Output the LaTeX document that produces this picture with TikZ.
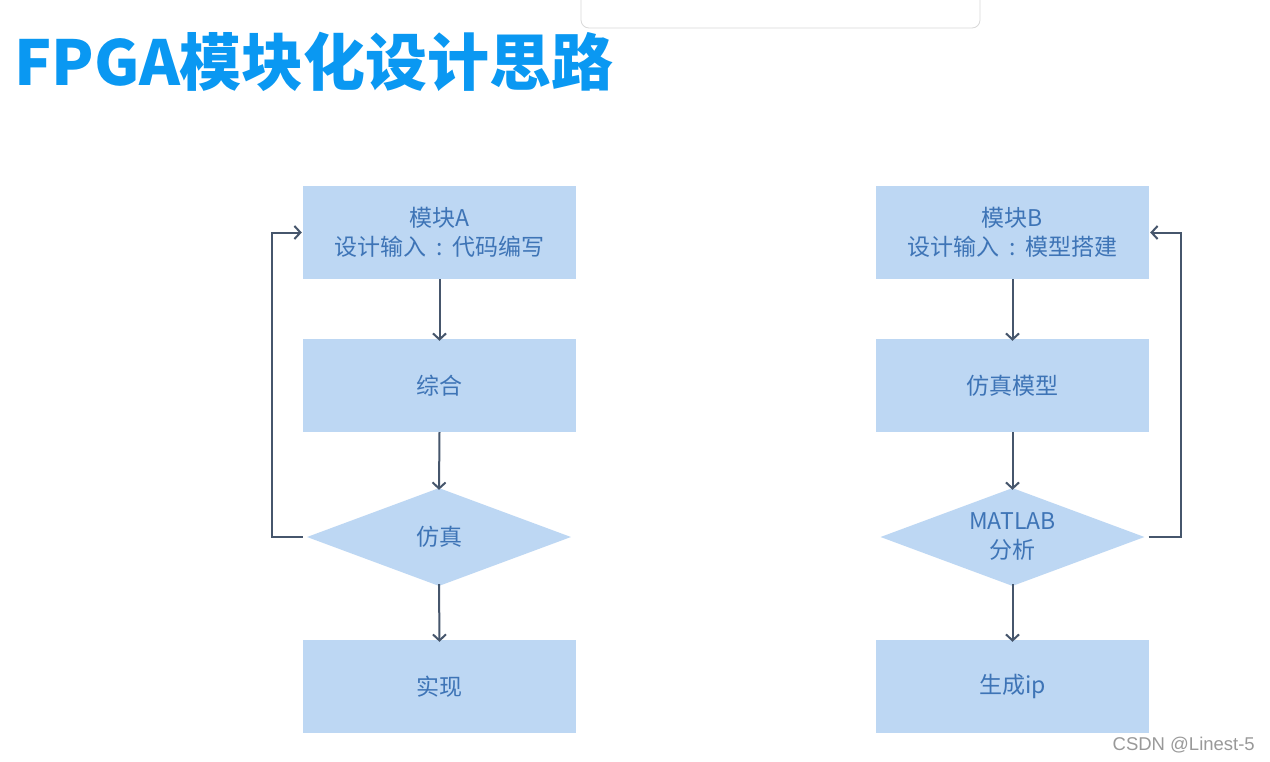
\documentclass[tikz,border=0pt]{standalone}
\usepackage{fontspec}
\setmainfont{Noto Sans CJK SC}
\newfontfamily\cjk{Noto Sans CJK SC}
\newfontfamily\wm{Liberation Sans}
\usetikzlibrary{shapes.geometric,arrows.meta}
\definecolor{boxfill}{HTML}{BDD7F3}
\definecolor{boxtext}{HTML}{3E74B6}
\definecolor{arrowc}{HTML}{46566C}
\definecolor{titlec}{HTML}{0A98F2}
\newcommand{\fwcolon}{\hspace{0.42em}:\hspace{0.42em}}
\tikzset{
  stepbox/.style={rectangle, fill=boxfill, minimum width=273pt, minimum height=93pt, inner sep=0pt,
    text=boxtext, font=\cjk\fontsize{23}{29}\selectfont, align=center},
  decision/.style={diamond, fill=boxfill, minimum width=264pt, minimum height=98pt, inner sep=0pt},
  dtext/.style={inner sep=0pt, text=boxtext, font=\cjk\fontsize{23}{29}\selectfont, align=center},
  flow/.style={draw=arrowc, line width=2pt, -{Straight Barb[length=6pt,width=13pt]}}
}
\begin{document}
\begin{tikzpicture}[x=1pt,y=-1pt]
\useasboundingbox (0,0) rectangle (1270,761);
\fill[white] (0,0) rectangle (1270,761);
% top partial panel
\draw[draw=black!15, line width=0.8pt, rounded corners=8pt] (581,-20) -- (581,28) -- (980,28) -- (980,-20);
% title
\node[anchor=west, inner sep=0pt, text=titlec, font=\cjk\bfseries\fontsize{62}{62}\selectfont] (title) at (14,62) {FPGA模块化设计思路};
% left column
\node[stepbox] (a1) at (439.5,232.5) {模块A\\设计输入\fwcolon 代码编写};
\node[stepbox] (a2) at (439.5,385.5) {综合};
\node[decision] (a3) at (439,537) {};
\node[dtext] (a3t) at (a3) {仿真};
\node[stepbox] (a4) at (439.5,686.5) {实现};
% right column
\node[stepbox] (b1) at (1012.5,232.5) {模块B\\设计输入\fwcolon 模型搭建};
\node[stepbox] (b2) at (1012.5,385.5) {仿真模型};
\node[decision] (b3) at (1012.5,537) {};
\node[dtext] (b3t) at (b3) {MATLAB\\分析};
\node[stepbox] (b4) at (1012.5,686.5) {生成ip};
% arrows
\draw[flow] (a1.south) -- ([yshift=-2pt]a2.north);
\draw[flow] (a2.south) -- ([yshift=-2pt]a3.north);
\draw[flow] ([yshift=2pt]a3.south) -- ([yshift=-2pt]a4.north);
\draw[flow] (b1.south) -- ([yshift=-2pt]b2.north);
\draw[flow] (b2.south) -- ([yshift=-2pt]b3.north);
\draw[flow] ([yshift=2pt]b3.south) -- ([yshift=-2pt]b4.north);
% feedback loops
\coordinate (la) at (272,537);
\coordinate (lb) at (272,232.5);
\draw[flow] ([xshift=-4pt]a3.west) -- (la) -- (lb) -- ([xshift=-1pt]a1.west);
\coordinate (ra) at (1181,537);
\coordinate (rb) at (1181,232.5);
\draw[flow] ([xshift=4pt]b3.east) -- (ra) -- (rb) -- ([xshift=1pt]b1.east);
% watermark
\node[anchor=east, inner sep=0pt, text=black!40, font=\wm\fontsize{18.5}{18.5}\selectfont] (wmk) at (1255,745) {CSDN @Linest-5};
\end{tikzpicture}
\end{document}
